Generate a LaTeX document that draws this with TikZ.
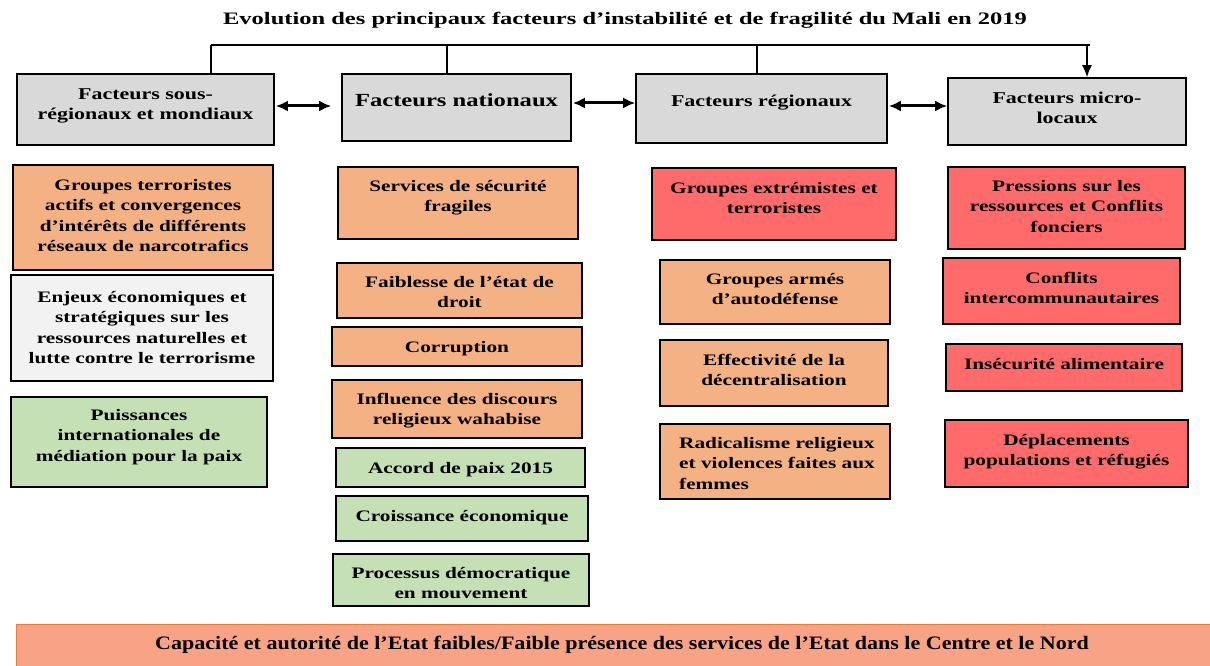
\documentclass[tikz,border=0pt]{standalone}
\usepackage{fontspec}
\usepackage{graphicx}
\setmainfont{Liberation Serif}
\usetikzlibrary{arrows.meta,fit}
\definecolor{hdr}{HTML}{D9D9D9}
\definecolor{org}{HTML}{F4B183}
\definecolor{lgr}{HTML}{F2F2F2}
\definecolor{grn}{HTML}{C5E0B4}
\definecolor{rd}{HTML}{FF6B6B}
\definecolor{sal}{HTML}{F8A386}
\definecolor{sbd}{HTML}{ED7D31}
\newcommand\sx[2][c]{\scalebox{1.33}[1]{\begin{tabular}{@{}#1@{}}#2\end{tabular}}}
\newcommand\mkbox[8]{%
  \node[bx, fill=#2, fit={(#3,#4)(#5,#6)}] (#1) {};
  \coordinate (#1c) at (0,#7);
  \node[tx] (#1t) at ([yshift=8.5pt]#1.north |- #1c) {\sx{#8}};
}
\begin{document}
\begin{tikzpicture}[x=1pt,y=-1pt,
  bx/.style={draw=black, line width=1.6pt, inner sep=0pt},
  tx/.style={inner sep=0pt, anchor=north,
    font=\fontsize{16}{20.5}\selectfont\bfseries},
  conn/.style={line width=1.5pt, draw=black},
  dbl/.style={line width=3pt, {Latex[length=12pt,width=11pt]}-{Latex[length=12pt,width=11pt]}}]
\useasboundingbox (0,0) rectangle (1210,666);
\fill[white] (0,0) rectangle (1210,666);

\node[font=\fontsize{17.5}{20}\selectfont\bfseries, inner sep=0pt] (title) at (625,20) {\scalebox{1.40}[1]{Evolution des principaux facteurs d’instabilité et de fragilité du Mali en 2019}};

% headers
\mkbox{h1}{hdr}{17}{74}{274}{145}{93}{\fontsize{16.5}{21}\selectfont Facteurs sous-\\\fontsize{16.5}{21}\selectfont régionaux et mondiaux}
\mkbox{h2}{hdr}{342}{74}{571}{141}{100}{\fontsize{18.5}{21}\selectfont Facteurs nationaux}
\mkbox{h3}{hdr}{636}{74}{887}{143}{100}{\fontsize{16.5}{21}\selectfont Facteurs régionaux}
\mkbox{h4}{hdr}{948}{78}{1186}{145}{97}{\fontsize{16.5}{21}\selectfont Facteurs micro-\\\fontsize{16.5}{21}\selectfont locaux}

% column 1
\mkbox{a1}{org}{13}{165}{273}{270}{184}{Groupes terroristes\\actifs et convergences\\d’intérêts de différents\\réseaux de narcotrafics}
\mkbox{a2}{lgr}{11}{275}{273}{381}{296}{Enjeux économiques et\\stratégiques sur les\\ressources naturelles et\\lutte contre le terrorisme}
\mkbox{a3}{grn}{11}{397}{267}{487}{414}{Puissances\\internationales de\\médiation pour la paix}

% column 2
\mkbox{b1}{org}{338}{167}{578}{239}{185}{Services de sécurité\\fragiles}
\mkbox{b2}{org}{337}{263}{582}{318}{281}{Faiblesse de l’état de\\droit}
\mkbox{b3}{org}{332}{327}{582}{366}{346}{Corruption}
\mkbox{b4}{org}{332}{380}{582}{438}{398}{Influence des discours\\religieux wahabise}
\mkbox{b5}{grn}{336}{448}{585}{487}{467}{Accord de paix 2015}
\mkbox{b6}{grn}{336}{496}{588}{541}{515}{Croissance économique}
\mkbox{b7}{grn}{333}{554}{589}{606}{572}{Processus démocratique\\en mouvement}

% column 3
\mkbox{c1}{rd}{652}{168}{896}{240}{187}{Groupes extrémistes et\\terroristes}
\mkbox{c2}{org}{660}{260}{890}{324}{278}{Groupes armés\\d’autodéfense}
\mkbox{c3}{org}{660}{340}{888}{406}{359}{Effectivité de la\\décentralisation}
\node[bx, fill=org, fit={(660,424)(890,499)}] (c4) {};
\node[tx, anchor=north west] (c4t) at (679,433.5) {\sx[l]{Radicalisme religieux\\et violences faites aux\\femmes}};

% column 4
\mkbox{d1}{rd}{948}{167}{1185}{249}{185}{Pressions sur les\\ressources et Conflits\\fonciers}
\mkbox{d2}{rd}{943}{258}{1180}{324}{277}{Conflits\\intercommunautaires}
\mkbox{d3}{rd}{946}{344}{1182}{391}{363}{Insécurité alimentaire}
\mkbox{d4}{rd}{945}{420}{1188}{487}{439}{Déplacements\\populations et réfugiés}

% bottom bar
\node[fill=sal, inner sep=0pt, fit={(17,625)(1212,668)}] (bar) {};
\draw[sbd, line width=1.2pt] (bar.south west) -- (bar.north west) -- (bar.north east);
\node[font=\fontsize{19}{22}\selectfont\bfseries, inner sep=0pt] (bart) at (622,645) {\scalebox{1.16}[1]{Capacité et autorité de l’Etat faibles/Faible présence des services de l’Etat dans le Centre et le Nord}};

% top connector
\coordinate (v1) at (211,45);
\coordinate (v2) at (447,45);
\coordinate (v3) at (757,45);
\coordinate (v4) at (1087,45);
\coordinate (vend) at (1090,45);
\draw[conn] (v1) -- (vend);
\draw[conn] (v1) -- (v1 |- h1.north);
\draw[conn] (v2) -- (v2 |- h2.north);
\draw[conn] (v3) -- (v3 |- h3.north);
\draw[conn, -{Latex[length=12pt,width=10pt]}] (v4) -- (v4 |- h4.north);

% double arrows
\coordinate (r1) at (0,106);
\coordinate (r2) at (0,103);
\draw[dbl, shorten >=10pt, shorten <=1pt] (h1.east |- r1) -- (h2.west |- r1);
\draw[dbl, shorten <=1pt] (h2.east |- r2) -- (h3.west |- r2);
\draw[dbl, shorten <=1pt] (h3.east |- r1) -- (h4.west |- r1);
\end{tikzpicture}
\end{document}
